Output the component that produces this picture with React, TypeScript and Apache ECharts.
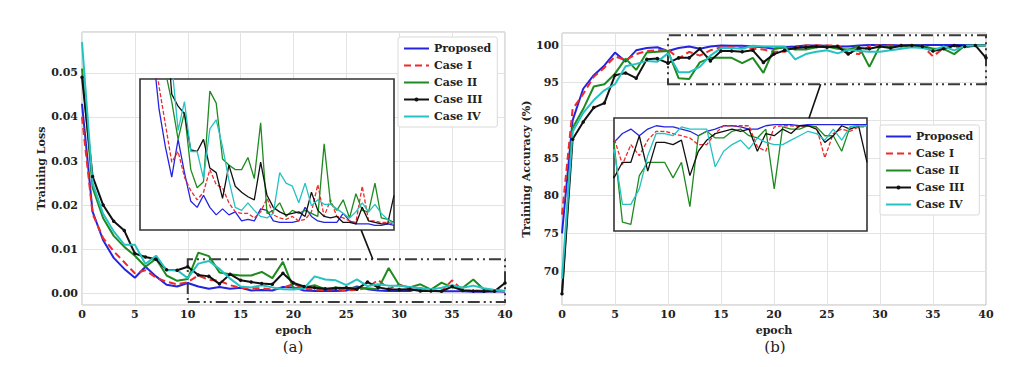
import React, { useEffect, useRef } from 'react';
import * as echarts from 'echarts';

// ---------- data ----------
const EPOCHS = [0, 1, 2, 3, 4, 5, 6, 7, 8, 9, 10, 11, 12, 13, 14, 15, 16, 17, 18, 19, 20,
  21, 22, 23, 24, 25, 26, 27, 28, 29, 30, 31, 32, 33, 34, 35, 36, 37, 38, 39, 40];

const SERIES_NAMES = ['Proposed', 'Case I', 'Case II', 'Case III', 'Case IV'];

const LOSS_PROPOSED = [0.043, 0.0185, 0.012, 0.008, 0.0055, 0.0035, 0.006, 0.0038, 0.0019, 0.0015, 0.0023,
  0.0015, 0.001, 0.0014, 0.001, 0.0012, 0.0006, 0.0007, 0.0006, 0.0014, 0.0013,
  0.0006, 0.0005, 0.0005, 0.0005, 0.0006, 0.0015, 0.0009, 0.0006, 0.0005, 0.0005,
  0.0005, 0.0011, 0.0006, 0.0004, 0.0004, 0.0004, 0.0003, 0.0003, 0.0004, 0.0003];
const LOSS_CASE1 = [0.040, 0.018, 0.0125, 0.0095, 0.007, 0.0045, 0.0052, 0.0035, 0.0026, 0.002, 0.0025,
  0.004, 0.003, 0.0028, 0.0018, 0.0012, 0.0011, 0.0011, 0.0008, 0.0012, 0.0021,
  0.001, 0.0008, 0.0007, 0.0009, 0.0006, 0.0007, 0.0012, 0.003, 0.0009, 0.002,
  0.0009, 0.0008, 0.0006, 0.0005, 0.0029, 0.0006, 0.0006, 0.0005, 0.0005, 0.0004];
const LOSS_CASE2 = [0.051, 0.024, 0.017, 0.013, 0.0105, 0.0085, 0.006, 0.0078, 0.004, 0.0028, 0.0032,
  0.0092, 0.0084, 0.0047, 0.0043, 0.004, 0.004, 0.0048, 0.0034, 0.0071, 0.0011,
  0.0013, 0.0018, 0.0009, 0.0013, 0.0011, 0.0013, 0.0011, 0.0009, 0.0057, 0.0018,
  0.0013, 0.002, 0.0008, 0.0024, 0.0013, 0.0012, 0.0031, 0.0008, 0.0007, 0.0005];
const LOSS_CASE3 = [0.049, 0.0265, 0.020, 0.0163, 0.0142, 0.009, 0.0082, 0.0077, 0.0053, 0.0052, 0.006,
  0.0041, 0.0038, 0.0021, 0.0043, 0.0029, 0.0025, 0.0022, 0.002, 0.0045, 0.0023,
  0.0015, 0.0012, 0.001, 0.0011, 0.0012, 0.0009, 0.0025, 0.0013, 0.0009, 0.0008,
  0.0009, 0.0005, 0.0005, 0.0004, 0.0015, 0.0006, 0.0005, 0.0004, 0.0004, 0.0023];
const LOSS_CASE4 = [0.057, 0.025, 0.018, 0.014, 0.011, 0.011, 0.0066, 0.0085, 0.0052, 0.0052, 0.0034,
  0.0067, 0.0073, 0.0055, 0.0033, 0.0015, 0.0013, 0.0018, 0.0013, 0.0009, 0.0008,
  0.0011, 0.0038, 0.0031, 0.0029, 0.0018, 0.0031, 0.0016, 0.002, 0.0017, 0.0017,
  0.0014, 0.0011, 0.0008, 0.0012, 0.0018, 0.0012, 0.0017, 0.0011, 0.0007, 0.0004];

const ACC_PROPOSED = [75, 90, 94.2, 96, 97.3, 99, 97.8, 99.3, 99.6, 99.7, 99.2,
  99.6, 99.8, 99.5, 99.8, 99.95, 99.9, 99.9, 99.8, 99.7, 99.5,
  99.7, 99.8, 99.95, 99.95, 99.9, 99.8, 99.8, 99.95, 100, 100,
  100, 99.95, 100, 100, 100, 100, 100, 100, 100, 100];
const ACC_CASE1 = [77.5, 91.5, 93.5, 95.8, 97, 98.5, 98.0, 98.8, 99.2, 99.3, 99.4,
  98.2, 99.1, 98.6, 99.3, 99.7, 99.7, 99.6, 99.5, 99.4, 99.1,
  99.1, 99.6, 99.95, 99.95, 99.95, 99.95, 99.0, 98.8, 99.9, 99.95,
  99.95, 99.9, 99.95, 99.9, 98.5, 99.6, 99.8, 99.7, 99.9, 99.9];
const ACC_CASE2 = [67, 89, 91.5, 94.5, 94.8, 96.2, 98.2, 96.7, 99, 99.1, 99.2,
  95.6, 95.5, 97.7, 98.3, 98.3, 98.3, 97.6, 98.3, 96.3, 99.5,
  99.7, 99.4, 99.4, 99.7, 99.8, 99.5, 99.4, 99.8, 97.1, 99.9,
  99.8, 99.8, 99.95, 99.9, 99.5, 99.5, 98.8, 99.9, 99.95, 99.95];
const ACC_CASE3 = [67, 87.5, 89.8, 91.7, 92.3, 96, 96.3, 95.6, 98.1, 98.2, 97.6,
  98.3, 98.3, 99.5, 97.9, 99.2, 99.2, 99.1, 99.3, 97.7, 98.8,
  99.3, 99.6, 99.7, 99.8, 99.7, 99.8, 98.8, 99.6, 99.5, 99.8,
  99.6, 99.95, 99.95, 99.8, 99.2, 99.5, 99.95, 99.8, 99.95, 98.3];
const ACC_CASE4 = [69, 88.5, 91, 92.7, 94, 94.8, 97.2, 97.5, 97.9, 97.8, 98.9,
  96.4, 96.4, 97.1, 98.6, 99.6, 99.6, 99.5, 99.9, 99.8, 99.8,
  99.8, 98.1, 98.8, 99.1, 99.3, 98.9, 99.4, 99.2, 99.1, 99.1,
  99.3, 99.5, 99.7, 99.6, 99.3, 99.8, 99.3, 99.9, 99.95, 99.95];

const LOSS_ALL = [LOSS_PROPOSED, LOSS_CASE1, LOSS_CASE2, LOSS_CASE3, LOSS_CASE4];
const ACC_ALL = [ACC_PROPOSED, ACC_CASE1, ACC_CASE2, ACC_CASE3, ACC_CASE4];

// zoom regions (data coordinates)
const LOSS_ZOOM_BOX = [[10, -0.002], [40, 0.0077]];
const ACC_ZOOM_BOX = [[10, 94.8], [40, 101.3]];
const LOSS_CONNECTOR = [[26.4, 0.0143], [27.5, 0.0077]];
const ACC_CONNECTOR = [[23.3, 90.3], [24.4, 94.8]];

// ---------- styles ----------
const COLORS = ['#2424e0', '#ee2a2a', '#1f8a1f', '#111111', '#26c2c2'];
const FONT = "'DejaVu Serif', 'Liberation Serif', serif";
const tickText = { fontFamily: FONT, fontWeight: 'bold' as const, fontSize: 11, color: '#222' };

export default function App() {
  const ref = useRef<HTMLDivElement>(null);

  useEffect(() => {
    if (!ref.current) return;
    const chart = echarts.init(ref.current, undefined, { renderer: 'svg' });

    const pairs = (arr: number[]) => EPOCHS.map((e, i) => [e, arr[i]]);

    const series: any[] = [];
    SERIES_NAMES.forEach((name, k) => {
      const isDash = k === 1;
      const hasDot = k === 3;
      const mainBase = {
        name,
        type: 'line',
        symbol: hasDot ? 'circle' : 'none',
        symbolSize: 3.5,
        showAllSymbol: true,
        itemStyle: { color: COLORS[k] },
        lineStyle: { color: COLORS[k], width: 2, type: isDash ? [7, 4] : 'solid' },
        z: 2,
        silent: true,
      };
      const insetBase = {
        name,
        type: 'line',
        symbol: 'none',
        itemStyle: { color: COLORS[k] },
        lineStyle: { color: COLORS[k], width: 1.3, type: isDash ? [4, 2] : 'solid' },
        z: 6,
        silent: true,
      };
      const lossMain: any = { ...mainBase, xAxisIndex: 0, yAxisIndex: 0, data: pairs(LOSS_ALL[k]) };
      const accMain: any = { ...mainBase, xAxisIndex: 1, yAxisIndex: 1, data: pairs(ACC_ALL[k]) };
      if (k === 0) {
        const boxStyle = {
          color: 'rgba(0,0,0,0)',
          borderColor: '#3a3a3a',
          borderWidth: 2,
          borderType: [12, 4, 2, 4, 2, 4],
        };
        const lineMark = (c: number[][]) => ({
          silent: true,
          symbol: ['none', 'none'],
          label: { show: false },
          lineStyle: { color: '#111', width: 1.6, type: 'solid' },
          data: [[{ coord: c[0] }, { coord: c[1] }]],
        });
        lossMain.markArea = {
          silent: true,
          itemStyle: boxStyle,
          label: { show: false },
          data: [[{ coord: LOSS_ZOOM_BOX[0] }, { coord: LOSS_ZOOM_BOX[1] }]],
        };
        accMain.markArea = {
          silent: true,
          itemStyle: boxStyle,
          label: { show: false },
          data: [[{ coord: ACC_ZOOM_BOX[0] }, { coord: ACC_ZOOM_BOX[1] }]],
        };
        lossMain.markLine = lineMark(LOSS_CONNECTOR);
        accMain.markLine = lineMark(ACC_CONNECTOR);
      }
      series.push(lossMain, accMain);
      series.push({ ...insetBase, xAxisIndex: 2, yAxisIndex: 2, data: pairs(LOSS_ALL[k]) });
      series.push({ ...insetBase, xAxisIndex: 3, yAxisIndex: 3, data: pairs(ACC_ALL[k]) });
    });

    const mainX = (gridIndex: number) => ({
      type: 'value',
      gridIndex,
      min: 0,
      max: 40,
      interval: 5,
      name: 'epoch',
      nameLocation: 'middle',
      nameGap: 18,
      nameTextStyle: { ...tickText },
      axisLine: { show: false },
      axisTick: { show: false },
      axisLabel: { ...tickText, margin: 4 },
      splitLine: { show: true, lineStyle: { color: '#e3e3e3', width: 1 } },
    });

    const legendData = SERIES_NAMES.map((name, k) =>
      k === 3 ? { name, itemStyle: { opacity: 1 } } : { name, itemStyle: { opacity: 0 } }
    );

    const legendBase = {
      orient: 'vertical',
      itemWidth: 25,
      itemHeight: 5,
      itemGap: 6,
      padding: [6, 6, 5, 5],
      backgroundColor: '#ffffff',
      borderColor: '#d9d9d9',
      borderWidth: 1,
      borderRadius: 2,
      z: 10,
      textStyle: { ...tickText, fontSize: 11 },
      data: legendData,
    };

    chart.setOption({
      animation: false,
      backgroundColor: '#ffffff',
      grid: [
        { left: 82, top: 32, width: 423, height: 273, show: true, borderColor: '#bdbdbd', borderWidth: 1, backgroundColor: '#fff', z: 0 },
        { left: 562, top: 33, width: 424, height: 272, show: true, borderColor: '#bdbdbd', borderWidth: 1, backgroundColor: '#fff', z: 0 },
        { left: 140, top: 79, width: 254, height: 151, show: true, borderColor: '#333', borderWidth: 1.6, backgroundColor: '#fff', z: 3 },
        { left: 614, top: 118, width: 253, height: 113, show: true, borderColor: '#333', borderWidth: 1.6, backgroundColor: '#fff', z: 3 },
      ],
      xAxis: [
        mainX(0),
        mainX(1),
        { type: 'value', gridIndex: 2, min: 0, max: 40, show: false },
        { type: 'value', gridIndex: 3, min: 10, max: 40, show: false },
      ],
      yAxis: [
        {
          type: 'value',
          gridIndex: 0,
          min: -0.0027,
          max: 0.0593,
          minInterval: 0.01,
          maxInterval: 0.01,
          name: 'Training Loss',
          nameLocation: 'middle',
          nameGap: 32,
          nameTextStyle: { ...tickText },
          axisLine: { show: false },
          axisTick: { show: false },
          axisLabel: { ...tickText, margin: 4, showMinLabel: false, showMaxLabel: false, formatter: (v: number) => v.toFixed(2) },
          splitLine: { show: true, lineStyle: { color: '#e3e3e3', width: 1 } },
        },
        {
          type: 'value',
          gridIndex: 1,
          min: 65.5,
          max: 101.6,
          minInterval: 5,
          maxInterval: 5,
          name: 'Training Accuracy (%)',
          nameLocation: 'middle',
          nameGap: 27,
          nameTextStyle: { ...tickText },
          axisLine: { show: false },
          axisTick: { show: false },
          axisLabel: { ...tickText, margin: 3, showMinLabel: false, showMaxLabel: false, formatter: (v: number) => String(Math.round(v)) },
          splitLine: { show: true, lineStyle: { color: '#e3e3e3', width: 1 } },
        },
        { type: 'value', gridIndex: 2, min: 0, max: 0.01, show: false },
        { type: 'value', gridIndex: 3, min: 95.2, max: 100.3, show: false },
      ],
      legend: [
        { ...legendBase, left: 398, top: 37 },
        { ...legendBase, left: 880, top: 125 },
      ],
      graphic: [
        { type: 'text', x: 293, y: 347, style: { text: '(a)', textAlign: 'center', align: 'center', textVerticalAlign: 'middle', verticalAlign: 'middle', font: "15px 'DejaVu Serif', serif", fill: '#222' } },
        { type: 'text', x: 775, y: 347, style: { text: '(b)', textAlign: 'center', align: 'center', textVerticalAlign: 'middle', verticalAlign: 'middle', font: "15px 'DejaVu Serif', serif", fill: '#222' } },
      ],
      series,
    });

    return () => chart.dispose();
  }, []);

  return (
    <div
      ref={ref}
      style={{ position: 'fixed', left: 0, top: 0, width: 1024, height: 367, background: '#fff' }}
    />
  );
}
